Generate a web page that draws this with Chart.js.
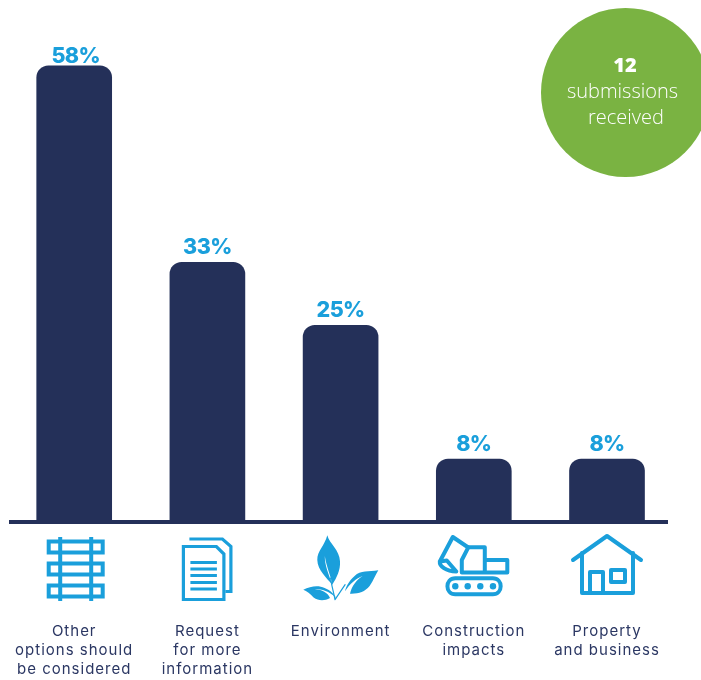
<!DOCTYPE html>
<html>
<head>
<meta charset="utf-8">
<style>html,body{margin:0;padding:0;background:#fff}canvas{display:block}</style>
<script src="https://cdn.jsdelivr.net/npm/chart.js@4"></script>
</head>
<body>
<canvas id="c" width="701" height="680"></canvas>
<script>
const categories = [
  ["Other","options should","be considered"],
  ["Request","for more","information"],
  ["Environment"],
  ["Construction","impacts"],
  ["Property","and business"]
];
const percentages = [58,33,25,8,8];
const badgeCount = "12";
const badgeLines = ["submissions","received"];

const NAVY="#243059", BLUE="#1a9fdb", GREEN="#7ab342", INK="#2b3763";

// Icon outlines, designed around x=0 at the tick centre; y in canvas pixels
const icons = [
  {stroke:[
    "M-14 537V601M17 537V601",
    "M-25.5 541.5H28.5V552.5H-25.5ZM-25.5 563.5H28.5V574.5H-25.5ZM-25.5 585.5H28.5V596.5H-25.5Z"
   ],w:4},
  {stroke:[
    "M-24 546.5H9L16.5 554V599.5H-24Z",
    "M-18 539H15L23.5 546.5V591.5H18",
    "M-17 562.5H9.5M-17 569H9.5M-17 575.5H9.5M-17 582.5H9.5M-17 589H9.5"
   ],w:3.2},
  {fill:[
    "M-13.3 535.3C-16 546 -23.5 551 -23.3 560C-23 570 -14 578 -8.3 584.7C-12 574 -16 565 -15.8 556C-14 568 -9 578 -8.3 584.7C-4 578 0 570 -0.6 561.3C-1 550 -11 544 -13.3 535.3Z",
    "M-37.3 589.7C-30 586 -22 585 -16 588C-10 590 -6 595 -4 598.5C-9 593 -18 588 -26 589.5C-20 589 -13 592 -10.6 598C-16 601 -22 601 -27 597.5C-30 594 -34 591 -37.3 589.7Z",
    "M37.7 570.3C28 572 20 570 14 576C8 581 5 588 4.4 591.3C9 584 16 578 22 576C16 580 11 586 9.4 593.7C18 594 24 592 29 586C33 580 35 575 37.7 570.3Z"
   ],
   stroke:["M-5.6 599.7L4.5 584.7M-5.6 599.7C-7 592 -9 586 -10 578"],w:1.2},
  {stroke:[
    "M-21 537L-5.5 547.5M-21 537L-34 561.5C-34.5 566 -28 571.5 -17.5 571.5L-27 560.5L-34 561.5",
    "M-12 572.5V560L-5.5 547.3H11V572.5ZM11 560H33.5V572.5H-12",
    "M-18.5 578.3H19C29.5 578.3 29.5 594.3 19 594.3H-18.5C-29 594.3 -29 578.3 -18.5 578.3Z"
   ],w:4,
   dots:[[-18.5,586.3],[-6.1,586.3],[6.5,586.3],[19.2,586.3]]},
  {stroke:[
    "M-34 560L0 536L34 560",
    "M-25 553V593H26V553",
    "M-17 593V572H-4V593",
    "M4 570H18V582H4Z"
   ],w:4}
];

const decorations = {
  id:"decorations",
  beforeDraw(chart){
    chart.ctx.letterSpacing="1px";
  },
  afterDatasetsDraw(chart){
    const ctx=chart.ctx, x=chart.scales.x, y=chart.scales.y;
    // baseline
    ctx.save();
    ctx.fillStyle=NAVY;
    ctx.fillRect(9,520,659,4);

    // icons
    icons.forEach((ic,i)=>{
      ctx.save();
      ctx.translate(x.getPixelForValue(i),0);
      ctx.strokeStyle=BLUE; ctx.fillStyle=BLUE;
      ctx.lineWidth=ic.w; ctx.lineJoin="round"; ctx.lineCap="round";
      if(i<2) {ctx.lineJoin="miter";ctx.lineCap="butt";}
      (ic.fill||[]).forEach(p=>ctx.fill(new Path2D(p)));
      (ic.stroke||[]).forEach(p=>ctx.stroke(new Path2D(p)));
      (ic.dots||[]).forEach(d=>{ctx.beginPath();ctx.arc(d[0],d[1],3.2,0,7);ctx.fill();});
      ctx.restore();
    });

    // value labels
    ctx.letterSpacing="-0.6px";
    ctx.font="800 21.5px Inter";
    ctx.fillStyle=BLUE;
    ctx.textAlign="center";
    ctx.textBaseline="alphabetic";
    percentages.forEach((v,i)=>{
      ctx.fillText(v+"%",x.getPixelForValue(i)+(i==0?1.5:0),y.getPixelForValue(v)-(i==0?3:8));
    });

    // badge
    ctx.letterSpacing="0px";
    ctx.fillStyle=GREEN;
    ctx.beginPath();ctx.arc(625.5,92.5,84.5,0,Math.PI*2);ctx.fill();
    ctx.fillStyle="#fff";
    ctx.font="800 20px 'Open Sans'";
    ctx.fillText(badgeCount,625,72);
    ctx.font="300 20px 'Open Sans'";
    ctx.fillText(badgeLines[0],622.5,98);
    ctx.fillText(badgeLines[1],626,124);
    ctx.restore();
    ctx.letterSpacing="1px";
  }
};

new Chart(document.getElementById("c"),{
  type:"bar",
  data:{
    labels:categories,
    datasets:[{
      data:percentages,
      backgroundColor:NAVY,
      barThickness:75,
      borderRadius:{topLeft:12,topRight:12,bottomLeft:0,bottomRight:0},
      borderSkipped:false
    }]
  },
  plugins:[decorations],
  options:{
    responsive:false,
    animation:false,
    layout:{padding:{left:7.6,right:27.4,top:50,bottom:0}},
    plugins:{legend:{display:false},tooltip:{enabled:false},title:{display:false}},
    scales:{
      x:{
        grid:{display:false,drawTicks:false},
        border:{display:false},
        afterFit(s){s.height=158;s.paddingLeft=0;s.paddingRight=0;},
        ticks:{
          autoSkip:false,maxRotation:0,minRotation:0,padding:100,
          color:INK,
          font:{family:"Inter",size:15,weight:"400",lineHeight:1.27}
        }
      },
      y:{display:false,min:0,max:60}
    }
  }
});
</script>
</body>
</html>
